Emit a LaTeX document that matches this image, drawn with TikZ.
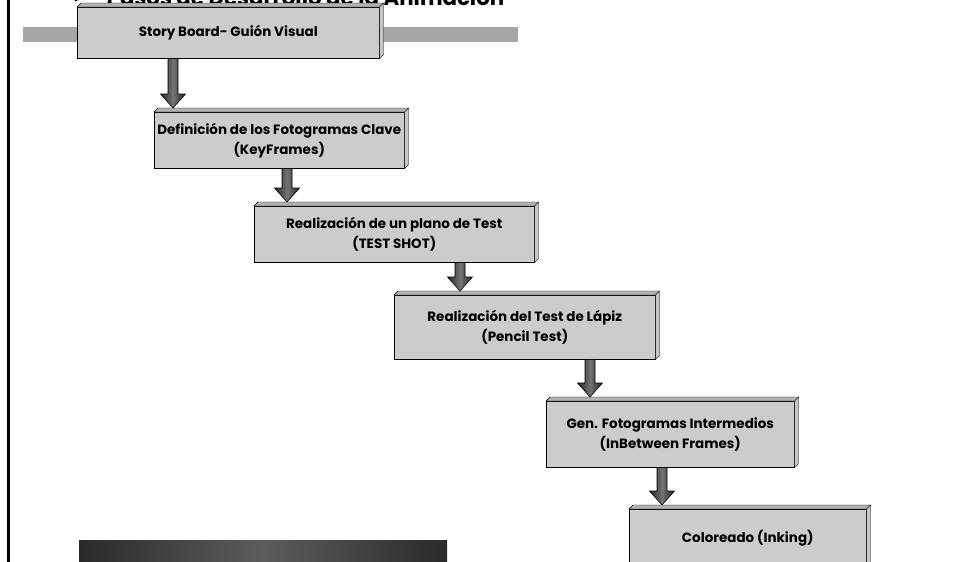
\documentclass[tikz,border=0pt]{standalone}
\usepackage{fontspec}
\setmainfont{Poppins}
\usetikzlibrary{calc}
\definecolor{cajagris}{HTML}{CCCCCC}
\definecolor{barragris}{HTML}{A6A6A6}
\definecolor{barraoscura}{HTML}{2A2A2A}
\definecolor{barraclara}{HTML}{5C5C5C}
\tikzset{
  caja/.style={draw=black, fill=cajagris, anchor=north west, align=center, inner sep=0pt,
    font=\bfseries\fontsize{10.1}{15}\selectfont},
  bisel/.style={draw=black, line width=0.3pt},
  flecha/.style={draw=black, line width=0.4pt, left color=black!85, right color=black!85, middle color=black!55}
}
% 3D edge on top and right of a box
\newcommand\biselar[1]{%
  \filldraw[bisel, fill=gray!60] (#1.north west) -- ++(4,-4) -- ($(#1.north east)+(4,-4)$) -- (#1.north east) -- cycle;
  \filldraw[bisel, fill=gray!45] (#1.north east) -- ++(4,-4) -- ($(#1.south east)+(4,-4)$) -- (#1.south east) -- cycle;
}
% block arrow from #1 down to #2 at the x of #3
\newcommand\flecha[3]{%
  \coordinate (fa) at (#1.south -| #3);
  \coordinate (fb) at (#2.north -| #3);
  \path[flecha] ([xshift=-3.75pt]fa) -- ([xshift=3.75pt]fa) -- ([xshift=3.75pt,yshift=13.5pt]fb)
    -- ([xshift=9.4pt,yshift=13.5pt]fb) -- ([yshift=3pt]fb) -- ([xshift=-9.4pt,yshift=13.5pt]fb)
    -- ([xshift=-3.75pt,yshift=13.5pt]fb) -- cycle;
}
\begin{document}
\begin{tikzpicture}[x=0.75pt, y=-0.75pt]
\useasboundingbox (0,0) rectangle (956,561);
\clip (0,0) rectangle (956,561);
\fill[white] (0,0) rectangle (956,561);
\draw[line width=2.25pt] (8,-5) -- (8,570);
\fill[barragris] (23,27) rectangle (518,42);
\node[anchor=base, font=\fontsize{10}{12}\selectfont] (vineta) at (76,4) {•};
\node[anchor=base west, font=\bfseries\fontsize{16}{18}\selectfont] (titulo) at (102,5) {Pasos de Desarrollo de la Animación};
\node[caja, minimum width=226.5pt, minimum height=38.25pt] (1) at (77,7) {Story Board- Guión Visual};
\node[caja, minimum width=187.5pt, minimum height=42pt] (2) at (154,112) {Definición de los Fotogramas Clave\\(KeyFrames)};
\node[caja, minimum width=210pt, minimum height=42pt] (3) at (254,206) {Realización de un plano de Test\\(TEST SHOT)};
\node[caja, minimum width=195.75pt, minimum height=48pt] (4) at (394,295) {Realización del Test de Lápiz\\(Pencil Test)};
\node[caja, minimum width=186pt, minimum height=49.5pt] (5) at (546,401) {Gen. Fotogramas Intermedios\\(InBetween Frames)};
\node[caja, minimum width=177.75pt, minimum height=43.5pt] (6) at (629,509) {Coloreado (Inking)};
\biselar{1}
\biselar{2}
\biselar{3}
\biselar{4}
\biselar{5}
\biselar{6}
\coordinate (x1) at (173,0);
\coordinate (x2) at (287,0);
\coordinate (x3) at (460,0);
\coordinate (x4) at (590,0);
\coordinate (x5) at (662,0);
\flecha{1}{2}{x1}
\flecha{2}{3}{x2}
\flecha{3}{4}{x3}
\flecha{4}{5}{x4}
\flecha{5}{6}{x5}
\shade[left color=barraoscura, right color=barraoscura, middle color=barraclara] (79,540) rectangle (447,565);
\end{tikzpicture}
\end{document}
